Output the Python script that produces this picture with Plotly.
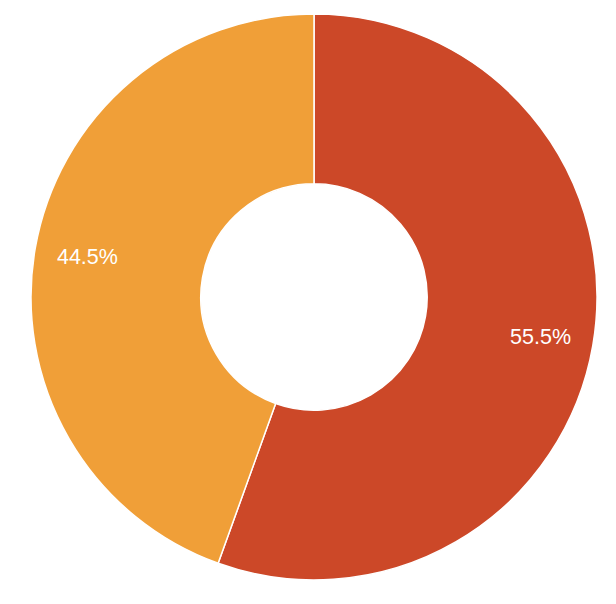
import plotly.graph_objects as go

labels = ["Series A", "Series B"]
values = [55.5, 44.5]
colors = ["#CC4828", "#F09F38"]

# main donut (no text)
donut = go.Pie(
    labels=labels,
    values=values,
    hole=0.4,
    sort=False,
    direction="clockwise",
    rotation=0,
    marker=dict(colors=colors, line=dict(color="white", width=1.5)),
    textinfo="none",
    showlegend=False,
    domain=dict(x=[0, 1], y=[0, 1]),
)

# transparent ring carrying the percentage labels further out
outer = 280
inner = 180
pad = (283 - outer) / 566
labels_ring = go.Pie(
    labels=labels,
    values=values,
    hole=inner / outer,
    sort=False,
    direction="clockwise",
    rotation=0,
    marker=dict(colors=["rgba(0,0,0,0)"] * len(values), line=dict(width=0)),
    textinfo="percent",
    texttemplate="%{percent:.1%}",
    textposition="inside",
    insidetextorientation="horizontal",
    textfont=dict(color="white", size=21.5, family="Liberation Sans, Arial, sans-serif"),
    showlegend=False,
    hoverinfo="skip",
    domain=dict(x=[pad, 1 - pad], y=[pad, 1 - pad]),
)

fig = go.Figure([donut, labels_ring])
fig.update_layout(
    width=616, height=604,
    margin=dict(l=23, r=27, t=6, b=32),
    paper_bgcolor="white",
    plot_bgcolor="white",
)
fig.write_html("out.html")
